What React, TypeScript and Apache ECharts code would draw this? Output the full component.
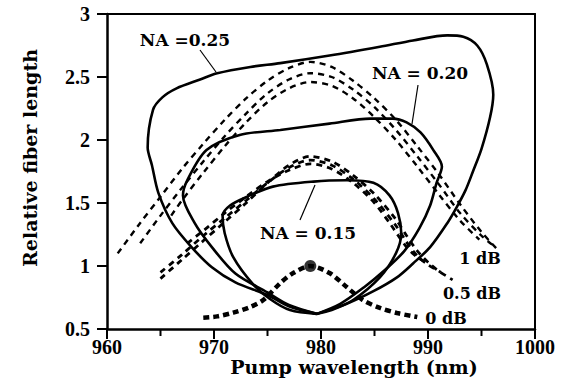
import React, { useEffect, useRef } from "react";
import * as echarts from "echarts";

// Axis ranges / ticks
const xRange = [960, 1000];
const yRange = [0.5, 3];
const xStep = 10;
const yStep = 0.5;

// Solid loops: NA curves [wavelength nm, relative length]
const na25 = [
  [979.6, 0.62], [977, 0.68], [975, 0.77], [972, 0.87], [969.8, 0.99], [967.9, 1.15],
  [966.1, 1.34], [964.8, 1.58], [964.2, 1.8], [963.8, 1.94], [964.3, 2.24], [965.2, 2.34],
  [966.5, 2.41], [968.7, 2.48], [970.3, 2.53], [973.4, 2.58], [976.2, 2.61], [980.8, 2.67],
  [985.5, 2.74], [988.6, 2.79], [991.8, 2.83], [993.3, 2.82], [994.6, 2.75], [995.5, 2.6],
  [996.1, 2.36], [995.8, 2.18], [995, 1.93], [994.2, 1.75], [993.5, 1.6], [992.7, 1.47],
  [991.8, 1.34], [990.2, 1.15], [988.6, 1.02], [987.1, 0.91], [984.9, 0.8], [982.4, 0.7],
  [979.6, 0.62],
];
const na20 = [
  [979.6, 0.62], [977, 0.69], [975, 0.79], [972, 0.94], [969.8, 1.15], [968.2, 1.34],
  [967.1, 1.56], [967.5, 1.68], [969.3, 1.92], [972.4, 2.04], [976.2, 2.08], [980.8, 2.13],
  [984.6, 2.17], [986.7, 2.17], [988, 2.14], [989.3, 2.06], [990.5, 1.92], [991.3, 1.79],
  [990.8, 1.66], [990.2, 1.48], [989.2, 1.3], [987.8, 1.12], [986, 0.97], [984, 0.83],
  [981.8, 0.7], [979.6, 0.62],
];
const na15 = [
  [979.6, 0.62], [977.1, 0.65], [975.2, 0.74], [973.6, 0.86], [971.8, 1.07], [971, 1.26],
  [970.8, 1.4], [971.5, 1.48], [973.1, 1.55], [975.5, 1.63], [979.3, 1.67], [982.4, 1.68],
  [984.9, 1.66], [986.4, 1.56], [987.2, 1.42], [987.5, 1.26], [987, 1.1], [985.5, 0.91],
  [983, 0.73], [981, 0.65], [979.6, 0.62],
];

// Dashed: 1 dB group
const dB1a = [
  [961, 1.1], [963, 1.33], [965, 1.55], [967, 1.77], [969, 1.97], [971, 2.16], [973, 2.33],
  [975, 2.47], [977, 2.57], [979, 2.62], [981, 2.58], [983, 2.47], [985, 2.33], [987, 2.16],
  [989, 1.95], [991, 1.73], [993, 1.49], [995, 1.27], [996.5, 1.13],
];
const dB1b = [
  [963.1, 1.18], [965, 1.4], [967, 1.62], [969, 1.83], [971, 2.03], [973, 2.21], [975, 2.37],
  [977, 2.48], [979, 2.53], [981, 2.5], [983, 2.4], [985, 2.26], [987, 2.08], [989, 1.87],
  [991, 1.65], [993, 1.42], [995, 1.24], [996, 1.17],
];
const dB1c = [
  [966, 1.4], [967, 1.52], [969, 1.74], [971, 1.95], [973, 2.14], [975, 2.3], [977, 2.41],
  [979, 2.46], [981, 2.43], [983, 2.33], [985, 2.18], [987, 2.0], [989, 1.79], [991, 1.57],
  [993, 1.36], [994.8, 1.21],
];
// Dashed: 0.5 dB group
const dB05a = [
  [965, 0.9], [967, 1.05], [969, 1.2], [971, 1.35], [973, 1.5], [975, 1.66], [977, 1.8],
  [979, 1.87], [981, 1.83], [983, 1.72], [985, 1.57], [987, 1.37], [988, 1.24], [989, 1.12],
  [990, 1.03], [991, 0.96], [992.3, 0.89],
];
const dB05b = [
  [965, 0.95], [967, 1.09], [969, 1.24], [971, 1.38], [973, 1.52], [975, 1.66], [977, 1.78],
  [979, 1.84], [981, 1.8], [983, 1.69], [985, 1.53], [987, 1.32], [988, 1.19], [989, 1.08],
  [990, 1.01], [991.2, 0.95],
];
const dB05c = [
  [967.5, 1.18], [969, 1.28], [971, 1.42], [973, 1.55], [975, 1.67], [977, 1.76], [979, 1.81],
  [981, 1.77], [983, 1.66], [985, 1.5], [986.5, 1.33], [988, 1.15], [989, 1.07], [990, 1.02],
];
// Dashed: 0 dB
const dB0 = [
  [969, 0.59], [970.3, 0.6], [971.8, 0.63], [973.4, 0.675], [974.6, 0.73], [976.2, 0.865],
  [977.4, 0.944], [979, 1.0], [980.8, 0.944], [982.4, 0.833], [983.9, 0.73], [985.5, 0.667],
  [987.1, 0.627], [989, 0.595],
];
const dB0Peak = [[979, 1.0]];

// Texts
const xTitle = "Pump wavelength (nm)";
const yTitle = "Relative fiber length";
const naLabels = ["NA =0.25", "NA = 0.20", "NA = 0.15"];
const dbLabels = ["1 dB", "0.5 dB", "0 dB"];

const TITLE_FONT = 'bold 19px "DejaVu Serif"';
const ANN_FONT = 'bold 17px "DejaVu Serif"';
const DB_FONT = 'bold 16px "DejaVu Serif"';

const GRID = { left: 107, top: 14, right: 26, bottom: 63 };
const W = 561;
const H = 392;

function solid(data: number[][]) {
  return {
    type: "line",
    data,
    symbol: "none",
    smooth: 0.3,
    lineStyle: { color: "#000", width: 2.6 },
    z: 4,
  };
}
function dashed(data: number[][], width = 2.4, dash = [6, 5]) {
  return {
    type: "line",
    data,
    symbol: "none",
    smooth: 0.3,
    lineStyle: { color: "#000", width, type: dash },
    z: 3,
  };
}

function txt(text: string, x: number, y: number, font: string, rotation = 0) {
  return {
    type: "text",
    x,
    y,
    rotation,
    style: {
      text,
      font,
      fill: "#000",
      textAlign: "center",
      textVerticalAlign: "middle",
      align: "center",
      verticalAlign: "middle",
    },
    z: 10,
  };
}
function seg(x1: number, y1: number, x2: number, y2: number, w = 1.2) {
  return {
    type: "line",
    shape: { x1, y1, x2, y2 },
    style: { stroke: "#000", lineWidth: w },
    z: 10,
  };
}

export default function App() {
  const ref = useRef<HTMLDivElement>(null);
  useEffect(() => {
    document.body.style.margin = "0";
    const chart = echarts.init(ref.current!, null, { renderer: "svg" });
    const tickFont = {
      fontFamily: "Liberation Serif",
      fontWeight: "bold",
      fontSize: 20,
      color: "#000",
    };
    const frame = { show: true, lineStyle: { color: "#000", width: 2 } };
    chart.setOption({
      animation: false,
      grid: GRID,
      xAxis: [
        {
          type: "value",
          position: "bottom",
          min: xRange[0],
          max: xRange[1],
          interval: xStep,
          axisLine: { show: true, lineStyle: { color: "#000", width: 2.5 } },
          axisTick: { show: true, length: 9, lineStyle: { color: "#000", width: 2 } },
          splitLine: { show: false },
          axisLabel: { ...tickFont, margin: 8, formatter: (v: number) => String(v) },
        },
        {
          type: "value",
          position: "top",
          min: xRange[0],
          max: xRange[1],
          interval: xStep,
          axisLine: frame,
          axisTick: { show: false },
          axisLabel: { show: false },
          splitLine: { show: false },
        },
      ],
      yAxis: [
        {
          type: "value",
          position: "left",
          min: yRange[0],
          max: yRange[1],
          interval: yStep,
          axisLine: { show: true, lineStyle: { color: "#000", width: 2.5 } },
          axisTick: { show: true, length: 10, lineStyle: { color: "#000", width: 2 } },
          splitLine: { show: false },
          axisLabel: { ...tickFont, margin: 17, formatter: (v: number) => String(v) },
        },
        {
          type: "value",
          position: "right",
          min: yRange[0],
          max: yRange[1],
          interval: yStep,
          axisLine: frame,
          axisTick: { show: false },
          axisLabel: { show: false },
          splitLine: { show: false },
        },
      ],
      series: [
        dashed(dB1a),
        dashed(dB1b),
        dashed(dB1c),
        dashed(dB05a, 2.8),
        dashed(dB05b, 2.8),
        dashed(dB05c, 2.8),
        dashed(dB0, 4.5, [6, 4]),
        solid(na25),
        solid(na20),
        solid(na15),
        {
          type: "scatter",
          data: dB0Peak,
          symbol: "circle",
          symbolSize: 12,
          itemStyle: { color: "#000" },
          z: 5,
        },
      ],
    });

    // Tick marks: positions from the chart's own scale, with a geometric fallback
    const toPx = (xv: number, yv: number): [number, number] => {
      let p: any = null;
      try {
        p = chart.convertToPixel({ gridIndex: 0 }, [xv, yv]);
      } catch (e) {
        p = null;
      }
      if (Array.isArray(p) && isFinite(p[0]) && isFinite(p[1])) return [p[0], p[1]];
      const pw = W - GRID.left - GRID.right;
      const ph = H - GRID.top - GRID.bottom;
      return [
        GRID.left + ((xv - xRange[0]) / (xRange[1] - xRange[0])) * pw,
        GRID.top + ((yRange[1] - yv) / (yRange[1] - yRange[0])) * ph,
      ];
    };
    const tickEls: any[] = [];
    const half = xStep / 2;
    for (let i = 0; xRange[0] + i * half <= xRange[1] + 1e-9; i++) {
      const v = xRange[0] + i * half;
      const [px, py] = toPx(v, yRange[0]);
      const len = i % 2 === 0 ? 10 : 7;
      tickEls.push(seg(px, py, px, py + len, 2));
    }
    for (let i = 0; yRange[0] + i * yStep <= yRange[1] + 1e-9; i++) {
      const v = yRange[0] + i * yStep;
      const [px, py] = toPx(xRange[0], v);
      tickEls.push(seg(px - 10, py, px, py, 2));
    }

    chart.setOption({
      graphic: [
        ...tickEls,
        txt(xTitle, 354, 367, TITLE_FONT),
        txt(yTitle, 30, 158, TITLE_FONT, Math.PI / 2),
        txt(naLabels[0], 185, 40, ANN_FONT),
        txt(naLabels[1], 420, 73, ANN_FONT),
        txt(naLabels[2], 308, 233, ANN_FONT),
        seg(200, 50, 216, 72),
        seg(418, 85, 412, 124),
        seg(300, 220, 315, 185),
        txt(dbLabels[0], 480, 258, DB_FONT),
        txt(dbLabels[1], 472, 293, DB_FONT),
        txt(dbLabels[2], 446, 318, DB_FONT),
      ],
    });
    return () => chart.dispose();
  }, []);
  return <div ref={ref} style={{ width: 561, height: 392 }} />;
}
